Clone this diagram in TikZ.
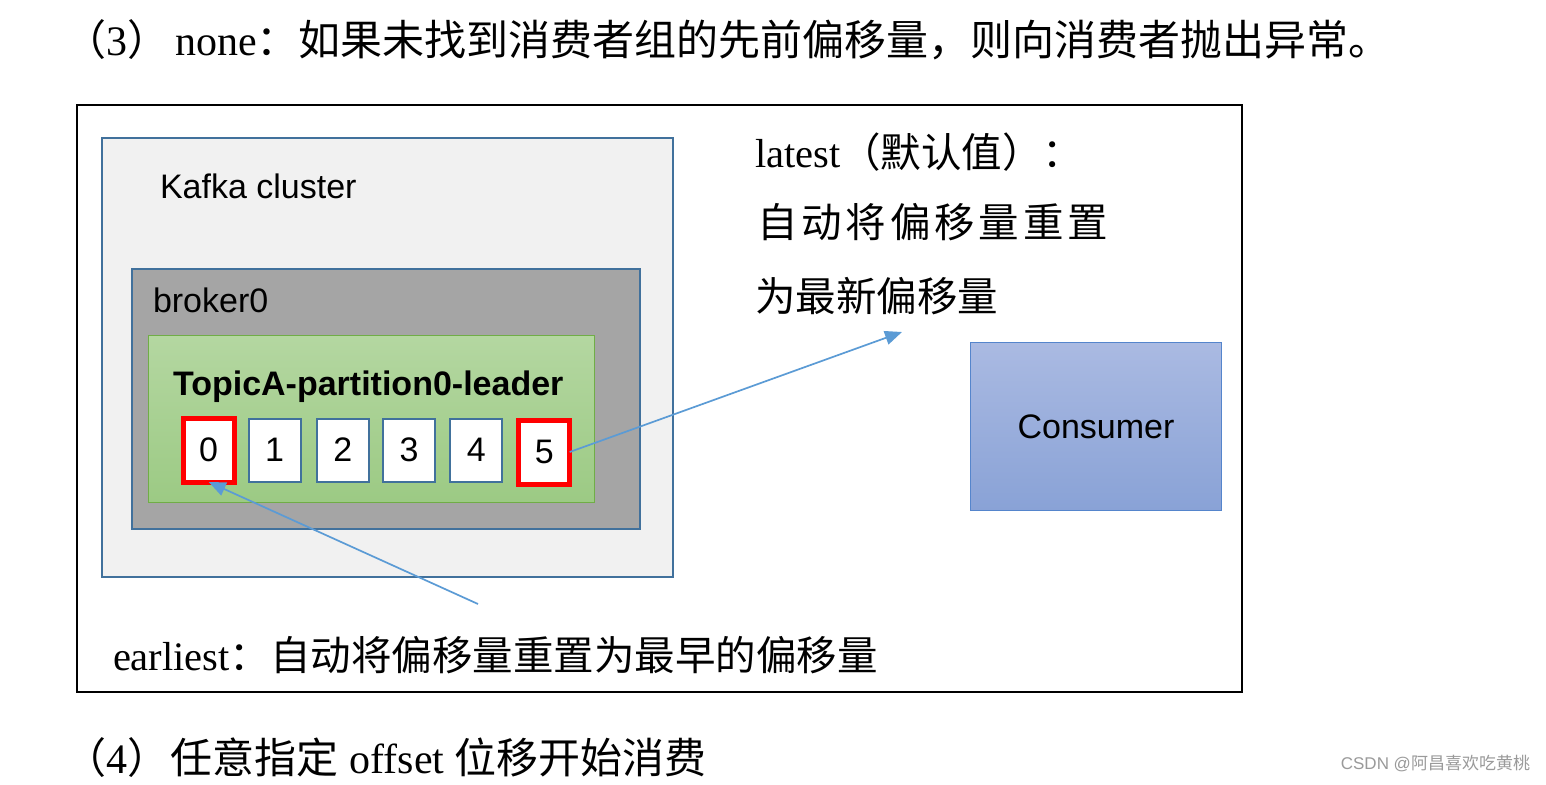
\documentclass[tikz,border=0pt]{standalone}
\usepackage{fontspec}
\setmainfont{Liberation Serif}
\setsansfont{Liberation Sans}
\newfontfamily\cjk{Noto Sans CJK SC}
\usetikzlibrary{arrows.meta}
\definecolor{frameblue}{HTML}{41719C}
\definecolor{clusterfill}{HTML}{F1F1F1}
\definecolor{brokerfill}{HTML}{A5A5A5}
\definecolor{topicT}{HTML}{B4D7A1}
\definecolor{topicB}{HTML}{9CCA84}
\definecolor{topicedge}{HTML}{70AD47}
\definecolor{arrowblue}{HTML}{5B9BD5}
\definecolor{consT}{HTML}{AABAE2}
\definecolor{consB}{HTML}{89A2D6}
\definecolor{consedge}{HTML}{5585CC}
\definecolor{wmgray}{HTML}{9A9A9A}
\begin{document}
\begin{tikzpicture}[x=1pt,y=-1pt,
  every node/.style={inner sep=0pt, outer sep=0pt},
  region/.style={draw=frameblue, line width=2.5pt, rectangle},
  cell/.style={draw=frameblue, fill=white, line width=2pt, minimum width=52pt, minimum height=63pt, font=\sffamily\fontsize{34}{40}\selectfont},
  hotcell/.style={cell, draw=red, line width=5pt, minimum width=51pt, minimum height=64pt},
  link/.style={draw=arrowblue, line width=1.7pt, -{Triangle[length=17pt,width=14pt]}},
  sanslabel/.style={font=\sffamily\fontsize{34}{40}\selectfont, anchor=base west},
  bigtext/.style={font=\fontsize{42}{48}\selectfont, anchor=base west},
  midtext/.style={font=\fontsize{40.5}{48}\selectfont, anchor=base west}
]
\fill[white] (0,0) rectangle (1546,784);
\useasboundingbox (0,0) rectangle (1546,784);

% top and bottom lines
\node[bigtext] (line3) at (64,56) {{\cjk （}3{\cjk ）}\hspace{6pt}none{\cjk ：如果未找到消费者组的先前偏移量，则向消费者抛出异常。}};
\node[bigtext] (line4) at (64,773) {{\cjk （}4{\cjk ）}\hspace{2pt}{\cjk 任意指定}\ offset\ {\cjk 位移开始消费}};

% outer frame
\node[draw=black, line width=2pt, minimum width=1165pt, minimum height=587pt] (frame) at (659,398) {};

% Kafka cluster
\node[region, fill=clusterfill, minimum width=571pt, minimum height=439pt] (cluster) at (387.5,357.5) {};
\node[sanslabel] (clusterlabel) at (160,198) {Kafka cluster};

% broker
\node[region, fill=brokerfill, minimum width=508pt, minimum height=260pt] (broker) at (386,399) {};
\node[sanslabel] (brokerlabel) at (153,312) {broker0};

% topic partition
\node[draw=topicedge, line width=1pt, top color=topicT, bottom color=topicB, minimum width=446pt, minimum height=167pt] (topic) at (371,418.5) {};
\node[sanslabel, font=\sffamily\bfseries\fontsize{34}{40}\selectfont] (topiclabel) at (173,395) {TopicA-partition0-leader};

% cells
\node[hotcell] (b0) at (208.7,450) {0};
\node[cell] (b1) at (274.7,450) {1};
\node[cell] (b2) at (342.8,450) {2};
\node[cell] (b3) at (409,450) {3};
\node[cell] (b4) at (476.3,450) {4};
\node[hotcell] (b5) at (544.2,452) {5};

% consumer
\node[draw=consedge, line width=1.5pt, top color=consT, bottom color=consB, minimum width=251pt, minimum height=168pt, font=\sffamily\fontsize{34}{40}\selectfont] (consumer) at (1096,426.5) {Consumer};

% latest text
\node[midtext] (latest1) at (755,167) {latest{\cjk （默认值）：}};
\node[midtext] (latest2) at (757,237) {\cjk\makebox[351pt][s]{自\hfill 动\hfill 将\hfill 偏\hfill 移\hfill 量\hfill 重\hfill 置}};
\node[midtext] (latest3) at (755,311) {\cjk 为最新偏移量};

% earliest text
\node[midtext] (earliest) at (113,670) {earliest{\cjk ：自动将偏移量重置为最早的偏移量}};

% arrows
\coordinate (latestpt) at (902,332);
\coordinate (earlypt) at (478,604);
\draw[link] (b5.east) -- (latestpt);
\draw[link] (earlypt) -- (b0.south);

% watermark
\node[anchor=east, text=wmgray, font=\sffamily\fontsize{17}{20}\selectfont] (wm) at (1530,764) {CSDN @{\cjk 阿昌喜欢吃黄桃}};
\end{tikzpicture}
\end{document}
